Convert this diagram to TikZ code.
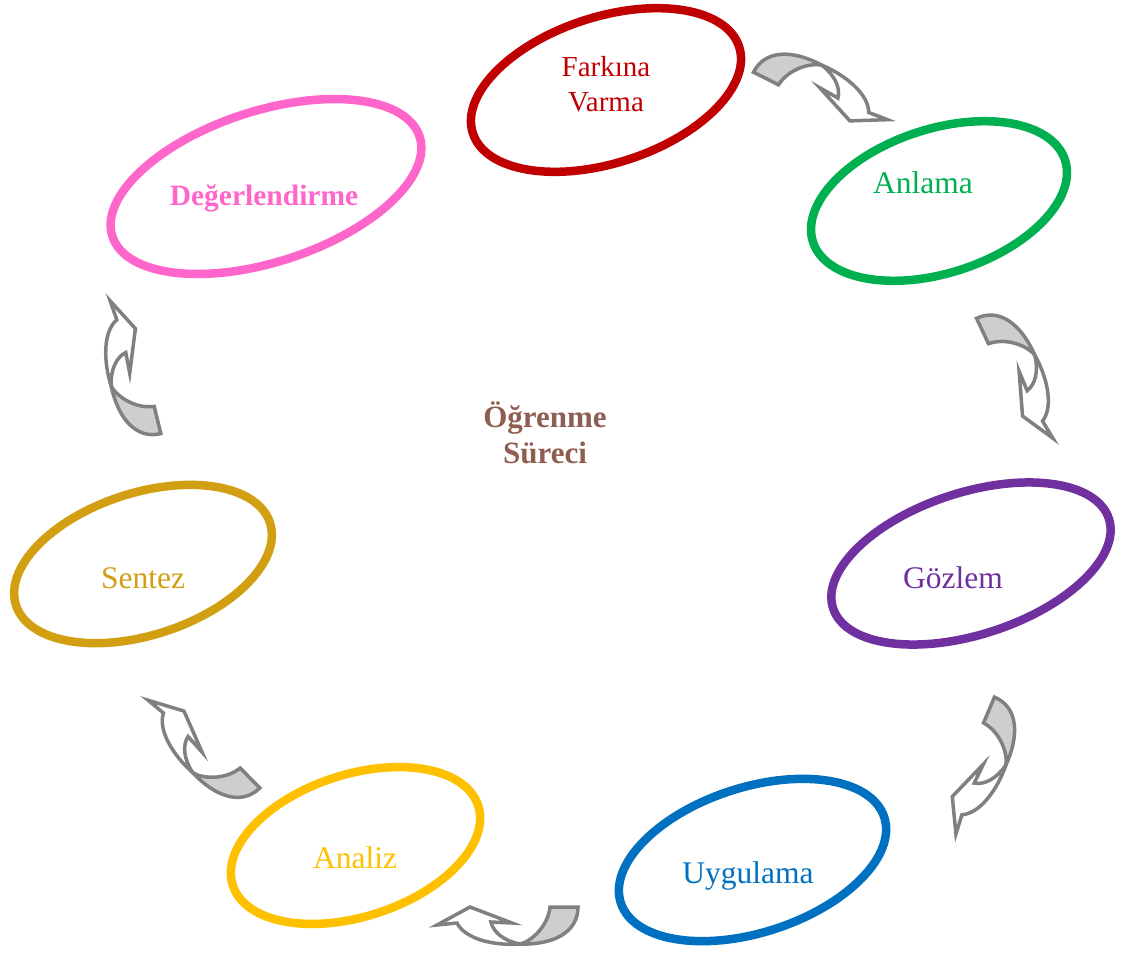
\documentclass[tikz,border=0pt]{standalone}
\usepackage{fontspec}
\setmainfont{Liberation Serif}
\usetikzlibrary{shapes.geometric}
\definecolor{Fark}{HTML}{C00000}
\definecolor{Anla}{HTML}{00B050}
\definecolor{Gozl}{HTML}{7030A0}
\definecolor{Uygu}{HTML}{0070C0}
\definecolor{Anal}{HTML}{FFC000}
\definecolor{Sent}{HTML}{D29F12}
\definecolor{Dege}{HTML}{FF66CC}
\definecolor{Core}{HTML}{8E5E52}
\definecolor{ArrEdge}{HTML}{808080}
\definecolor{ArrShade}{HTML}{CECECE}
\tikzset{
  ring/.style={ellipse,draw=#1,line width=8.5pt,inner sep=0pt,rotate=18},
  lbl/.style={font=\fontsize{31.5}{35}\selectfont,inner sep=0pt,anchor=base},
  boldlbl/.style={lbl,font=\fontsize{29.5}{35}\selectfont\bfseries},
  arrline/.style={draw=ArrEdge,line width=3.5pt,line join=miter},
  cycarrow/.pic={
    % back side of the ribbon
    \filldraw[arrline,fill=ArrShade] (-14,0) .. controls (-14,-25) and (10,-38) .. (44,-37)
       .. controls (34,-35) and (16,-20) .. (14,0) -- cycle;
    % front side with the head
    \filldraw[arrline,fill=white] (44,-37) .. controls (70,-39) and (99,-32) .. (107,-16)
       -- (127,-18) -- (94,0) -- (52,-16) -- (73,-15)
       .. controls (71,-25) and (60,-34) .. (44,-37) -- cycle;
  }
}
\begin{document}
\begin{tikzpicture}[x=1pt,y=-1pt]
  \useasboundingbox (0,0) rectangle (1125,958);

  % stages
  \node[ring=Fark,minimum width=280pt,minimum height=146pt] (fark) at (606,90) {};
  \node[ring=Anla,minimum width=265pt,minimum height=144pt] (anla) at (939,201) {};
  \node[ring=Gozl,minimum width=290pt,minimum height=142pt] (gozl) at (971,563.5) {};
  \node[ring=Uygu,minimum width=277pt,minimum height=145pt] (uygu) at (752.5,860) {};
  \node[ring=Anal,minimum width=258pt,minimum height=142pt] (anal) at (355.5,845.5) {};
  \node[ring=Sent,minimum width=267pt,minimum height=142pt] (sent) at (143,564) {};
  \node[ring=Dege,minimum width=323pt,minimum height=151pt] (dege) at (266,186.5) {};

  \node[lbl,anchor=center,align=center,text=Fark,font=\fontsize{29}{35}\selectfont]
     (farkT) at (606,84) {Farkına\\Varma};
  \node[lbl,text=Anla] (anlaT) at (923,193) {Anlama};
  \node[lbl,text=Gozl] (gozlT) at (953,588) {Gözlem};
  \node[lbl,text=Uygu] (uyguT) at (748,883) {Uygulama};
  \node[lbl,text=Anal] (analT) at (355,868) {Analiz};
  \node[lbl,text=Sent] (sentT) at (143,588) {Sentez};
  \node[boldlbl,text=Dege] (degeT) at (264,205) {Değerlendirme};

  \node[boldlbl,anchor=center,align=center,text=Core,font=\fontsize{31}{36}\selectfont\bfseries]
     (core) at (545,433) {Öğrenme\\Süreci};

  % arrows between stages
  \pic (a1) [rotate=-26.8] at (766,78.5) {cycarrow};
  \pic (a2) [rotate=-64.8] at (982.5,331) {cycarrow};
  \pic (a3) [rotate=-113] at (989,710) {cycarrow};
  \pic (a4) [rotate=-180] at (564,907) {cycarrow};
  \pic (a5) [rotate=-225.4] at (250,778) {cycarrow};
  \pic (a6) [rotate=-256.4] at (157.5,420) {cycarrow};
\end{tikzpicture}
\end{document}
